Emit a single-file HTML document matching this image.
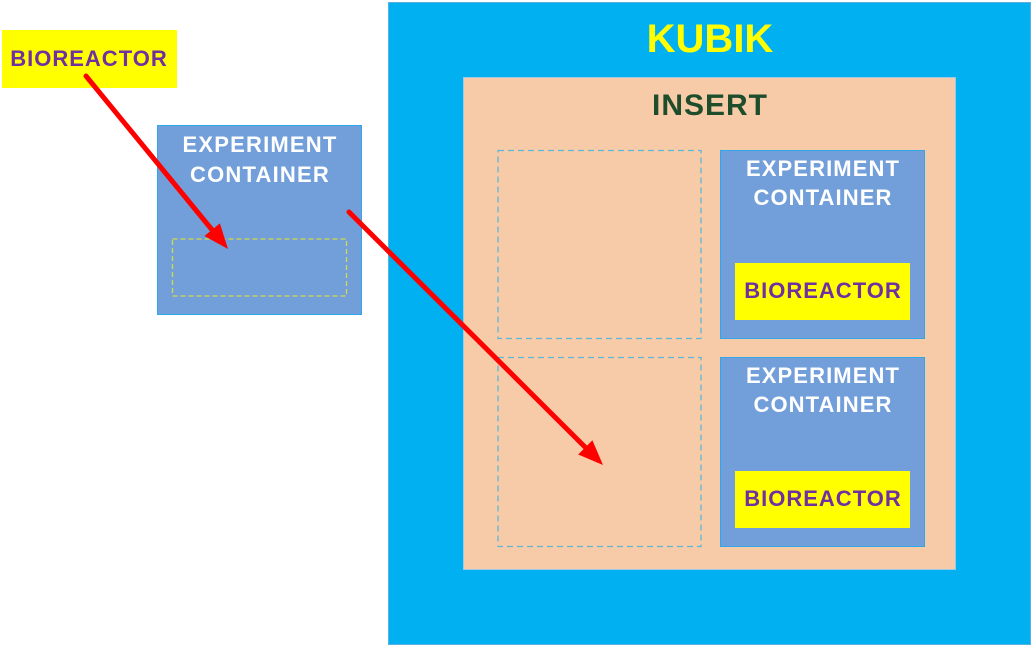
<!DOCTYPE html>
<html>
<head>
<meta charset="utf-8">
<style>
  html, body { margin: 0; padding: 0; background: #ffffff; }
  body { width: 1033px; height: 647px; overflow: hidden; }
  svg { display: block; }
  text { font-family: "Liberation Sans", Arial, sans-serif; font-weight: bold; }
</style>
</head>
<body>
<svg width="1033" height="647" viewBox="0 0 1033 647" xmlns="http://www.w3.org/2000/svg">
  <!-- KUBIK -->
  <rect x="388.5" y="2.5" width="642" height="642" fill="#00B0F0" stroke="#5AAEE0" stroke-width="1"/>
  <text x="710" y="52" font-size="40" fill="#FFFF00" text-anchor="middle">KUBIK</text>

  <!-- INSERT -->
  <rect x="463.5" y="77.5" width="492" height="492" fill="#F8CBA8" stroke="#9CC9E6" stroke-width="1"/>
  <text x="710" y="115" font-size="30" fill="#1E4D2B" text-anchor="middle" letter-spacing="1">INSERT</text>

  <!-- dashed slots -->
  <rect x="498" y="150.5" width="203" height="188" fill="none" stroke="#5BB8D8" stroke-width="1.3" stroke-dasharray="6,4"/>
  <rect x="498" y="357.5" width="203" height="189" fill="none" stroke="#5BB8D8" stroke-width="1.3" stroke-dasharray="6,4"/>

  <!-- Right EC top -->
  <rect x="720.5" y="150.5" width="204" height="188" fill="#729FDA" stroke="#2EA8E8" stroke-width="1"/>
  <text x="823" y="176" font-size="22" fill="#FFFFFF" text-anchor="middle" letter-spacing="1.1">EXPERIMENT</text>
  <text x="823" y="205" font-size="22" fill="#FFFFFF" text-anchor="middle" letter-spacing="1.1">CONTAINER</text>
  <rect x="735" y="263" width="175" height="57" fill="#FFFF00"/>
  <text x="823" y="298" font-size="22" fill="#7030A0" text-anchor="middle" letter-spacing="1">BIOREACTOR</text>

  <!-- Right EC bottom -->
  <rect x="720.5" y="357.5" width="204" height="189" fill="#729FDA" stroke="#2EA8E8" stroke-width="1"/>
  <text x="823" y="383" font-size="22" fill="#FFFFFF" text-anchor="middle" letter-spacing="1.1">EXPERIMENT</text>
  <text x="823" y="412" font-size="22" fill="#FFFFFF" text-anchor="middle" letter-spacing="1.1">CONTAINER</text>
  <rect x="735" y="471" width="175" height="57" fill="#FFFF00"/>
  <text x="823" y="506" font-size="22" fill="#7030A0" text-anchor="middle" letter-spacing="1">BIOREACTOR</text>

  <!-- Left BIOREACTOR -->
  <rect x="2" y="30" width="175" height="58" fill="#FFFF00"/>
  <text x="89" y="66" font-size="22" fill="#7030A0" text-anchor="middle" letter-spacing="1">BIOREACTOR</text>

  <!-- Left EC -->
  <rect x="157.5" y="125.5" width="204" height="189" fill="#729FDA" stroke="#2EA8E8" stroke-width="1"/>
  <text x="260" y="152" font-size="22" fill="#FFFFFF" text-anchor="middle" letter-spacing="1.2">EXPERIMENT</text>
  <text x="260" y="182" font-size="22" fill="#FFFFFF" text-anchor="middle" letter-spacing="1.2">CONTAINER</text>
  <rect x="172.5" y="239" width="174" height="57" fill="none" stroke="#D4D84A" stroke-width="1.3" stroke-dasharray="5,3"/>

  <!-- Arrow 1 -->
  <line x1="86" y1="76" x2="213" y2="231" stroke="#FF0000" stroke-width="5" stroke-linecap="round"/>
  <polygon points="228,249 204.4,236 219.9,223.4" fill="#FF0000"/>

  <!-- Arrow 2 -->
  <line x1="349" y1="212" x2="586" y2="448" stroke="#FF0000" stroke-width="5" stroke-linecap="round"/>
  <polygon points="603,465 578.2,454.5 592.4,440.3" fill="#FF0000"/>
</svg>
</body>
</html>
